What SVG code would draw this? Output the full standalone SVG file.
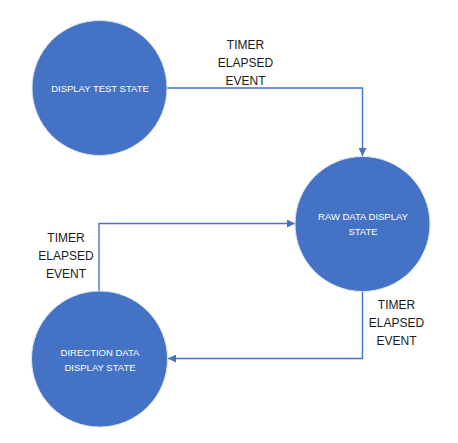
<svg xmlns="http://www.w3.org/2000/svg" width="458" height="443" viewBox="0 0 458 443">
<style>
.node{fill:#4472C4;stroke:#dde4f0;stroke-width:1}
.nt{font-family:"Liberation Sans",Arial,sans-serif;font-size:9.5px;fill:#ffffff;text-anchor:middle}
.lbl{font-family:"Liberation Sans",Arial,sans-serif;font-size:12px;fill:#1a1a1a;text-anchor:middle}
.edge{fill:none;stroke:#4472C4;stroke-width:1.4}
</style>
<defs>
<marker id="arr" viewBox="0 0 10 10" refX="10" refY="5" markerWidth="8" markerHeight="8" markerUnits="userSpaceOnUse" orient="auto">
<path d="M0,0 L10,5 L0,10 z" fill="#4472C4"/>
</marker>
</defs>
<rect width="458" height="443" fill="#ffffff"/>
<g id="connectors">
<path class="edge" d="M167,88 H362.5 V156" marker-end="url(#arr)"/>
<path class="edge" d="M99,291 V223.5 H295" marker-end="url(#arr)"/>
<path class="edge" d="M362.5,290 V358.5 H168" marker-end="url(#arr)"/>
<text class="lbl" x="245.5" y="49">TIMER</text>
<text class="lbl" x="245.5" y="67">ELAPSED</text>
<text class="lbl" x="245.5" y="85">EVENT</text>
<text class="lbl" x="66" y="241.5">TIMER</text>
<text class="lbl" x="66" y="259.5">ELAPSED</text>
<text class="lbl" x="66" y="277.5">EVENT</text>
<text class="lbl" x="396.5" y="308.5">TIMER</text>
<text class="lbl" x="396.5" y="326.5">ELAPSED</text>
<text class="lbl" x="396.5" y="344.5">EVENT</text>
</g>
<g id="display-test-state">
<circle class="node" cx="99.5" cy="88" r="67.5"/>
<text class="nt" x="100" y="92">DISPLAY TEST STATE</text>
</g>
<g id="raw-data-display-state">
<circle class="node" cx="362.5" cy="224" r="67.5"/>
<text class="nt" x="363" y="220">RAW DATA DISPLAY</text>
<text class="nt" x="363" y="235">STATE</text>
</g>
<g id="direction-data-display-state">
<circle class="node" cx="99.5" cy="359" r="68"/>
<text class="nt" x="100" y="355.5">DIRECTION DATA</text>
<text class="nt" x="100" y="370.5">DISPLAY STATE</text>
</g>
</svg>
